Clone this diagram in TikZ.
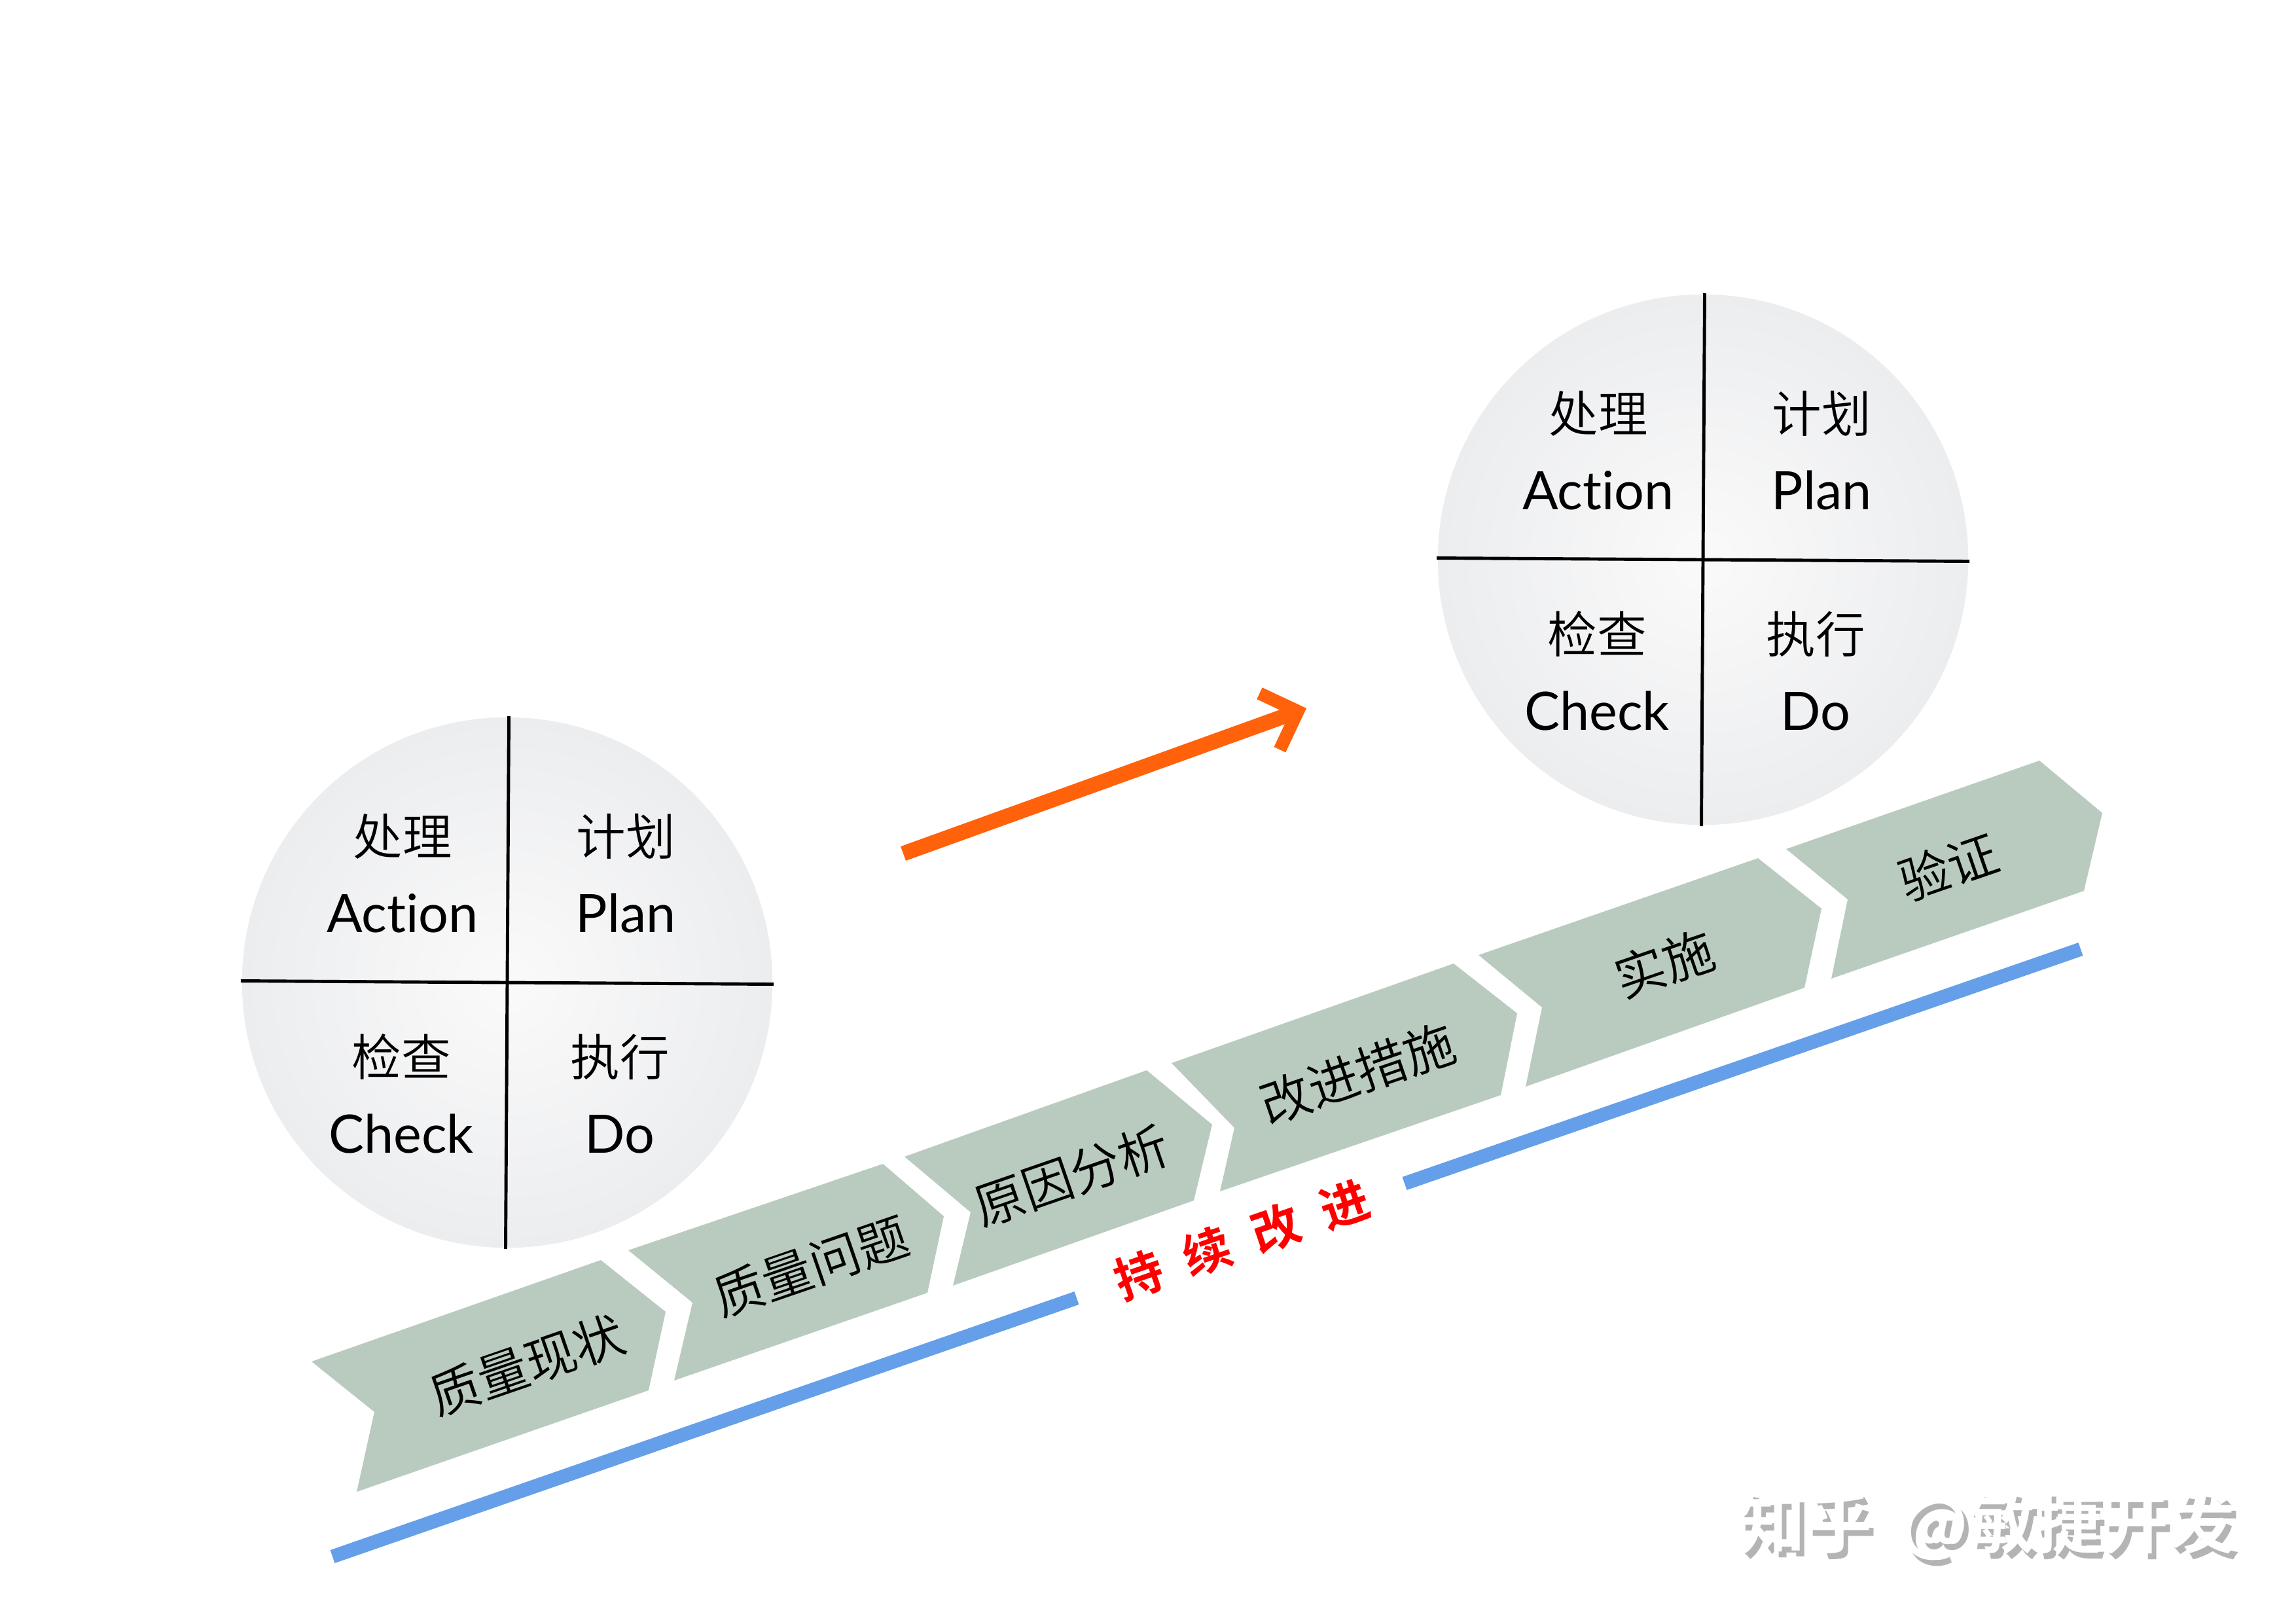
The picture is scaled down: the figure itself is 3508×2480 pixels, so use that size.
\documentclass[tikz,border=0pt]{standalone}
\usepackage{fontspec}
\setmainfont{Noto Sans CJK SC DemiLight}[BoldFont={Noto Sans CJK SC Bold}]
\newfontfamily\latinfont{Lato}[Ligatures=NoCommon]
\usetikzlibrary{arrows.meta}

\definecolor{chevgreen}{HTML}{B9CBBE}
\definecolor{lineblue}{HTML}{659FEA}
\definecolor{arroworange}{HTML}{FF620A}
\definecolor{markgray}{HTML}{B4B4B4}
\definecolor{discmid}{HTML}{FAFAFA}
\definecolor{discrim}{HTML}{ECEDEF}

\tikzset{
  chevron/.style={fill=chevgreen},
  phaselabel/.style={font=\fontsize{22}{26}\selectfont, rotate=19, inner sep=0pt},
  pdcadisc/.style={circle, minimum size=8.1cm, inner sep=0pt, outer sep=0pt,
                   inner color=discmid, outer color=discrim},
  pdcatext/.style={font=\fontsize{21.5}{33.6}\selectfont, align=center, inner sep=0pt},
  pdcaline/.style={line width=1.4pt},
  bluebar/.style={line width=6pt, lineblue},
  wmark/.style={font=\fontsize{29}{34}\bfseries\selectfont, inner sep=0pt},
}
\newcommand{\pdcaword}[1]{{\latinfont\fontsize{23}{33.6}\selectfont #1}}

\begin{document}
\begin{tikzpicture}[x=0.01cm, y=-0.01cm]
  \useasboundingbox (0,0) rectangle (3508,2480);

  % the two cycles
  \foreach \name/\cx/\cy in {old/775/1501, new/2602/855} {
    \begin{scope}[shift={(\cx,\cy)}]
      \node[pdcadisc] (\name) at (0,0) {};
      \coordinate (\name-w) at (-407,-2.5);
      \coordinate (\name-e) at (407,2.5);
      \coordinate (\name-n) at (2.5,-407);
      \coordinate (\name-s) at (-2.5,407);
      \draw[pdcaline] (\name-w) -- (\name-e);
      \draw[pdcaline] (\name-n) -- (\name-s);
      \node[pdcatext] (\name-a) at (-160,-167) {处理\\\pdcaword{Action}};
      \node[pdcatext] (\name-p) at (181,-167) {计划\\\pdcaword{Plan}};
      \node[pdcatext] (\name-c) at (-162,170) {检查\\\pdcaword{Check}};
      \node[pdcatext] (\name-d) at (172,170) {执行\\\pdcaword{Do}};
    \end{scope}
  }

  % arrow between them
  \coordinate (arrowfrom) at (1380,1304);
  \coordinate (arrowto) at (1996,1082);
  \draw[line width=6.6pt, arroworange, -{Straight Barb[length=13pt, width=26pt, line width=5.6pt]}]
    (arrowfrom) -- (arrowto);

  % steps
  \fill[chevron] (476,2080) -- (918,1925) -- (1017,2004) -- (991,2124) -- (545,2279) -- (572,2157) -- cycle;
  \fill[chevron] (960,1910) -- (1349,1778) -- (1442,1858) -- (1417,1975) -- (1030,2109) -- (1058,1990) -- cycle;
  \fill[chevron] (1382,1767) -- (1752,1635) -- (1852,1718) -- (1824,1834) -- (1456,1964) -- (1483,1852) -- cycle;
  \fill[chevron] (1790,1624) -- (2221,1472) -- (2318,1548) -- (2293,1673) -- (1864,1820) -- (1886,1723) -- cycle;
  \fill[chevron] (2259,1459) -- (2686,1311) -- (2783,1388) -- (2757,1509) -- (2331,1660) -- (2356,1539) -- cycle;
  \fill[chevron] (2729,1297) -- (3116,1162) -- (3212,1242) -- (3184,1361) -- (2798,1495) -- (2823,1374) -- cycle;

  \node[phaselabel] (status) at (805,2085) {质量现状};
  \node[phaselabel] (problem) at (1239,1935) {质量问题};
  \node[phaselabel] (cause) at (1637,1796) {原因分析};
  \node[phaselabel] (measure) at (2074,1640) {改进措施};
  \node[phaselabel] (apply) at (2543,1472) {实施};
  \node[phaselabel] (verify) at (2977,1324) {验证};

  % bar under the steps
  \coordinate (barstart) at (508,2378);
  \coordinate (barleft) at (1645,1983);
  \coordinate (barright) at (2146,1808);
  \coordinate (barend) at (3179,1450);
  \draw[bluebar] (barstart) -- (barleft);
  \draw[bluebar] (barright) -- (barend);
  \node[rotate=19, inner sep=0pt, text=red, font=\fontsize{21}{25}\bfseries\selectfont] (keepon) at (1897,1894)
    {持\hspace{10.5pt}续\hspace{10.5pt}改\hspace{10.5pt}进};

  % watermark
  \node[wmark, text=markgray] (markback) at (3043,2339) {知乎\hspace{6pt} @敏捷开发};
  \node[wmark, text=white] (markfront) at (3036,2330) {知乎\hspace{6pt} @敏捷开发};
\end{tikzpicture}
\end{document}
